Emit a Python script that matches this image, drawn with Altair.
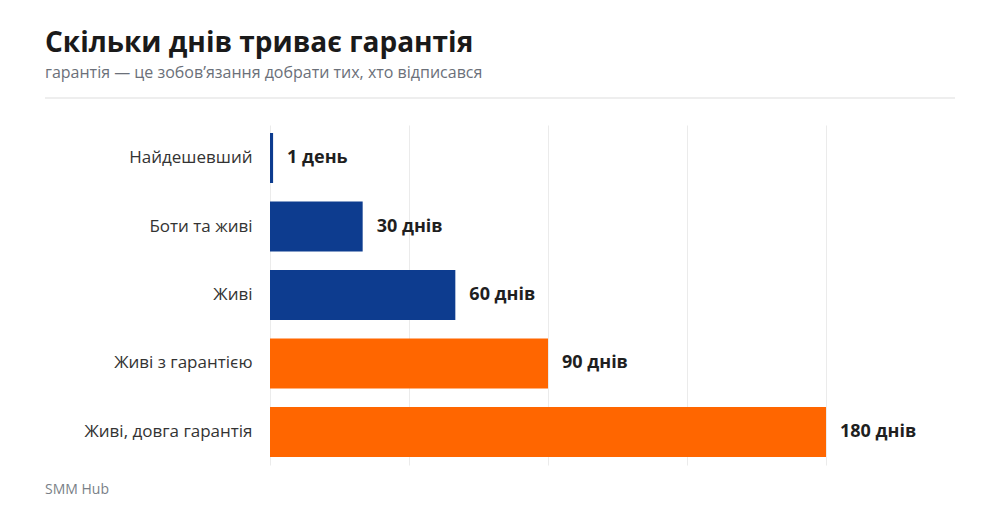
import altair as alt
import pandas as pd

categories = ["Найдешевший", "Боти та живі", "Живі", "Живі з гарантією", "Живі, довга гарантія"]
days = [1, 30, 60, 90, 180]
labels = ["1 день", "30 днів", "60 днів", "90 днів", "180 днів"]
groups = ["basic", "basic", "basic", "guarantee", "guarantee"]
footer_text = ["SMM Hub"]

df = pd.DataFrame({"cat": categories, "days": days, "label": labels, "group": groups})
one = pd.DataFrame({"t": footer_text})

FONT = "Open Sans"

y_enc = alt.Y("cat:N", sort=categories, title=None,
              scale=alt.Scale(paddingInner=0.27, paddingOuter=0.117),
              axis=alt.Axis(domain=False, ticks=False, labelPadding=18,
                            labelFontSize=17, labelColor="#333333", labelFont=FONT))
x_enc = alt.X("days:Q", title=None, scale=alt.Scale(domain=[0, 180], nice=False),
              axis=alt.Axis(values=[0, 45, 90, 135, 180], labels=False, ticks=False,
                            domain=False, grid=True, gridColor="#ebebeb", gridWidth=1))

bars = alt.Chart(df).mark_bar().encode(
    y=y_enc, x=x_enc,
    color=alt.Color("group:N", scale=alt.Scale(domain=["basic", "guarantee"],
                                               range=["#0d3c8f", "#ff6600"]), legend=None),
)

text = alt.Chart(df).mark_text(align="left", baseline="middle", dx=14, fontSize=18,
                               fontWeight="bold", color="#1f1f1f", font=FONT).encode(
    y=alt.Y("cat:N", sort=categories), x="days:Q", text="label:N")

rule = alt.Chart(one).mark_rule(color="#dddddd", strokeWidth=1).encode(
    x=alt.value(-225), x2=alt.value(685), y=alt.value(-27))

footer = alt.Chart(one).mark_text(align="left", baseline="middle", fontSize=14,
                                  fontWeight="normal", color="#7a7f87", font=FONT).encode(
    x=alt.value(-225), y=alt.value(365), text="t:N")

chart = alt.layer(bars, text, rule, footer).properties(
    width=556, height=340,
    autosize=alt.AutoSizeParams(type="none"),
    padding={"left": 262, "top": 117, "right": 166, "bottom": 40},
    title=alt.Title(
        "Скільки днів триває гарантія",
        subtitle="гарантія — це зобов’язання добрати тих, хто відписався",
        anchor="start", frame="group", dx=-225, offset=17,
        font=FONT, fontSize=28, fontWeight="bold", color="#1a1a1a",
        subtitleFont=FONT, subtitleFontSize=16, subtitleColor="#6b7079",
        subtitlePadding=7,
    ),
).configure(background="white").configure_view(stroke=None)

chart.save("out.html", embed_options={"renderer": "svg", "actions": False})
